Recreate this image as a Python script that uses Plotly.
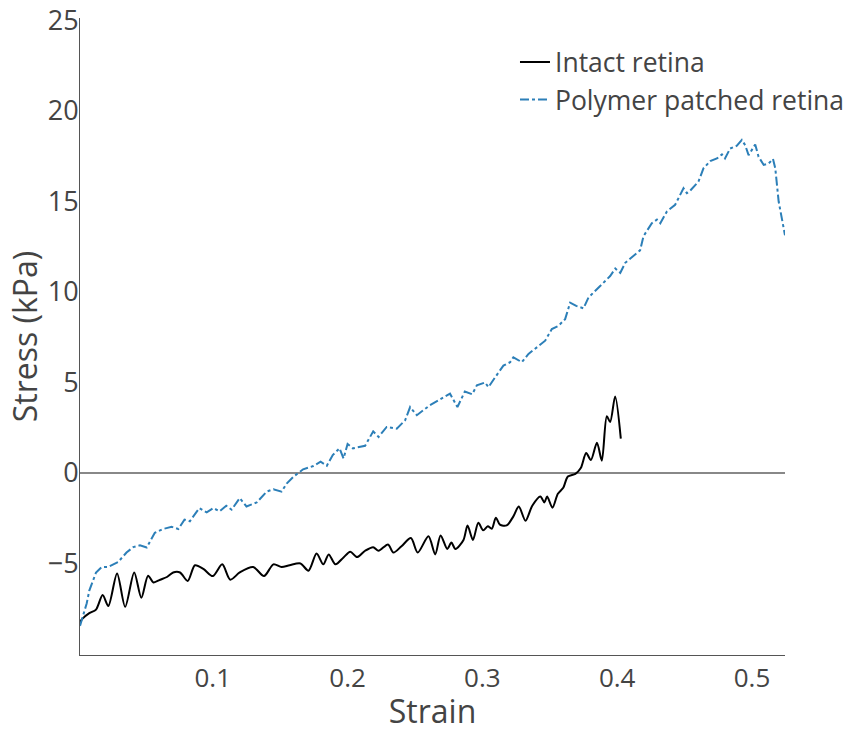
import plotly.graph_objects as go

# Intact retina (strain, stress kPa)
intact_strain = [0.0015, 0.003, 0.0084, 0.0134, 0.0183, 0.0225, 0.029, 0.035, 0.0417, 0.047,
                 0.052, 0.056, 0.061, 0.066, 0.0706, 0.0757, 0.0814, 0.0868, 0.093, 0.1,
                 0.107, 0.113, 0.12, 0.13, 0.138, 0.145, 0.151, 0.157, 0.165, 0.171,
                 0.177, 0.182, 0.186, 0.191, 0.197, 0.202, 0.207, 0.213, 0.219, 0.223,
                 0.23, 0.234, 0.24, 0.247, 0.252, 0.26, 0.265, 0.269, 0.274, 0.277,
                 0.28, 0.286, 0.289, 0.293, 0.297, 0.3006, 0.304, 0.307, 0.31, 0.313,
                 0.318, 0.323, 0.327, 0.332, 0.337, 0.343, 0.346, 0.348, 0.352, 0.356,
                 0.36, 0.3634, 0.369, 0.373, 0.377, 0.3805, 0.385, 0.3886, 0.3923, 0.3948,
                 0.3985, 0.4027]
intact_stress = [-8.25, -8.08, -7.75, -7.55, -6.75, -7.35, -5.55, -7.4, -5.5, -6.9,
                 -5.68, -6.05, -5.9, -5.75, -5.5, -5.5, -5.97, -5.1, -5.3, -5.7,
                 -5.05, -5.9, -5.5, -5.2, -5.7, -5.05, -5.2, -5.1, -5.0, -5.4,
                 -4.45, -5.05, -4.5, -5.05, -4.67, -4.35, -4.65, -4.3, -4.1, -4.3,
                 -3.95, -4.4, -4.05, -3.6, -4.4, -3.5, -4.5, -3.45, -4.2, -3.85,
                 -4.2, -3.7, -2.9, -3.7, -2.75, -3.17, -2.95, -3.08, -2.47, -2.86,
                 -2.9, -2.4, -1.85, -2.64, -1.81, -1.3, -1.63, -1.3, -1.92, -1.15,
                 -0.82, -0.2, -0.05, 0.27, 1.1, 0.71, 1.67, 0.68, 3.13, 2.82,
                 4.23, 1.9]

# Polymer patched retina
patched_strain = [0.0015, 0.0065, 0.0084, 0.011, 0.0134, 0.0176, 0.0223, 0.0297, 0.036, 0.041,
                  0.046, 0.051, 0.057, 0.063, 0.0695, 0.0745, 0.079, 0.083, 0.09, 0.0955,
                  0.1004, 0.105, 0.11, 0.114, 0.12, 0.125, 0.1326, 0.14, 0.145, 0.151,
                  0.155, 0.16, 0.167, 0.1746, 0.18, 0.1846, 0.189, 0.194, 0.197, 0.2,
                  0.204, 0.213, 0.219, 0.223, 0.229, 0.2365, 0.2427, 0.2464, 0.2514, 0.261,
                  0.2687, 0.276, 0.2815, 0.287, 0.2925, 0.2959, 0.302, 0.3045, 0.3095, 0.3156,
                  0.3206, 0.323, 0.3293, 0.3342, 0.3404, 0.3466, 0.3515, 0.3564, 0.3614, 0.3651,
                  0.3696, 0.375, 0.3787, 0.385, 0.39, 0.3948, 0.3986, 0.4023, 0.406, 0.4122,
                  0.417, 0.4195, 0.4257, 0.4295, 0.432, 0.4369, 0.443, 0.4492, 0.4517, 0.4542,
                  0.4603, 0.464, 0.469, 0.474, 0.4777, 0.48, 0.4838, 0.4888, 0.4925, 0.495,
                  0.4975, 0.5024, 0.5049, 0.5087, 0.5124, 0.5156, 0.5173, 0.5198, 0.5245]
patched_stress = [-8.45, -7.2, -6.5, -6.0, -5.5, -5.2, -5.2, -4.93, -4.4, -4.1,
                  -4.0, -4.12, -3.31, -3.1, -2.98, -3.1, -2.58, -2.67, -1.94, -2.18,
                  -1.94, -2.12, -1.81, -2.03, -1.39, -1.85, -1.63, -1.03, -0.9, -1.03,
                  -0.57, -0.2, 0.2, 0.38, 0.62, 0.4, 0.99, 1.36, 0.8, 1.6,
                  1.36, 1.5, 2.3, 1.99, 2.54, 2.45, 2.91, 3.64, 3.19, 3.74,
                  4.05, 4.38, 3.64, 4.5, 4.35, 4.84, 5.0, 4.74, 5.29, 5.93,
                  6.12, 6.39, 6.12, 6.58, 6.94, 7.31, 7.95, 8.13, 8.5, 9.41,
                  9.23, 9.1, 9.69, 10.15, 10.51, 10.88, 11.3, 11.06, 11.61, 11.98,
                  12.3, 13.08, 13.8, 14.0, 13.8, 14.45, 14.82, 15.73, 15.46, 15.6,
                  16.1, 16.83, 17.23, 17.38, 17.6, 17.38, 17.93, 18.08, 18.4, 18.11,
                  17.56, 18.15, 17.47, 17.02, 17.1, 17.35, 16.83, 15.0, 13.13]

y_range = [-10.06, 25.14]
x_ticks = [0.1, 0.2, 0.3, 0.4, 0.5]
y_ticks = [-5, 0, 5, 10, 15, 20, 25]

fig = go.Figure()
fig.add_trace(go.Scatter(x=intact_strain, y=intact_stress, mode="lines",
                         name="Intact retina",
                         line=dict(color="black", width=2, shape="spline", smoothing=0.8)))
fig.add_trace(go.Scatter(x=patched_strain, y=patched_stress, mode="lines",
                         name="Polymer patched retina",
                         line=dict(color="#2c7fb8", width=2, dash="dashdot")))

fig.update_layout(
    width=852, height=732,
    margin=dict(l=80, r=67, t=18, b=77, autoexpand=False),
    paper_bgcolor="white", plot_bgcolor="white",
    font=dict(family="Open Sans", size=27, color="#444"),
    legend=dict(x=0.617, y=0.968, xanchor="left", yanchor="top",
                bgcolor="rgba(0,0,0,0)", font=dict(size=26.5)),
    xaxis=dict(range=[min(intact_strain + patched_strain), max(patched_strain)],
               tickvals=x_ticks, showgrid=False, zeroline=False,
               showline=True, linecolor="#555", linewidth=1,
               tickfont=dict(size=26), automargin=False,
               title=dict(text="Strain", font=dict(size=32), standoff=4)),
    yaxis=dict(range=y_range, tickvals=y_ticks, showgrid=False,
               zeroline=True, zerolinecolor="#888", zerolinewidth=1.5,
               showline=True, linecolor="#555", linewidth=1,
               ticklabelstandoff=-5, automargin=False,
               title=dict(text="Stress (kPa)", font=dict(size=32), standoff=0)),
)

fig.write_html("out.html")
